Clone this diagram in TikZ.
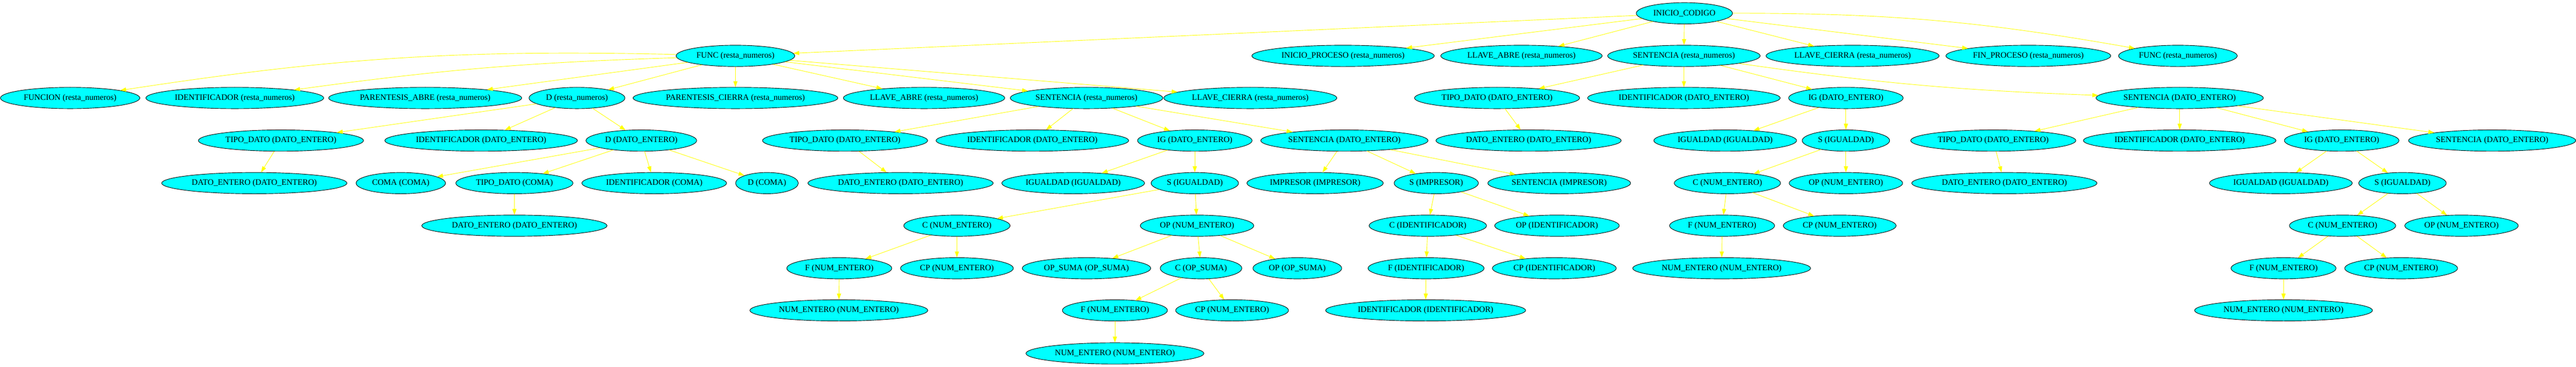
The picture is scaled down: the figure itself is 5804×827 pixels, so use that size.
\documentclass[tikz,border=0pt]{standalone}
\usepackage{fontspec}
\setmainfont{Liberation Serif}
\usetikzlibrary{arrows.meta,shapes.geometric}
\definecolor{tokcyan}{RGB}{0,255,255}
\definecolor{relyellow}{RGB}{255,255,0}

\begin{document}
\begin{tikzpicture}[x=0.75pt,y=-0.75pt,
    tok/.style={ellipse, draw=black, fill=tokcyan, line width=0.8pt, minimum height=36pt,
                inner xsep=5pt, inner ysep=2pt, font=\fontsize{14}{16}\selectfont},
    rel/.style={draw=relyellow, line width=0.8pt, -{Triangle[length=10pt,width=7pt,fill=relyellow]}}]
\useasboundingbox (0,0) rectangle (5804,827);
% Nodes
\node[tok] (ini) at (3795,30) {INICIO\_CODIGO};
\foreach \n/\x/\t in {fa/1657/FUNC (resta\_numeros), ipr/3026/INICIO\_PROCESO (resta\_numeros),
    lla/3428/LLAVE\_ABRE (resta\_numeros), sen/3794/SENTENCIA (resta\_numeros),
    llc/4174/LLAVE\_CIERRA (resta\_numeros), fpr/4570/FIN\_PROCESO (resta\_numeros),
    fb/4907/FUNC (resta\_numeros)} {
  \node[tok] (\n) at (\x,126) {\t};
}
\foreach \n/\x/\t in {fun/158/FUNCION (resta\_numeros), idr/529/IDENTIFICADOR (resta\_numeros),
    pab/958/PARENTESIS\_ABRE (resta\_numeros), dr/1300/D (resta\_numeros),
    pci/1657/PARENTESIS\_CIERRA (resta\_numeros), lab/2082/LLAVE\_ABRE (resta\_numeros),
    sr/2448/SENTENCIA (resta\_numeros), lcr/2817/LLAVE\_CIERRA (resta\_numeros),
    tda/3373/TIPO\_DATO (DATO\_ENTERO), ida/3794/IDENTIFICADOR (DATO\_ENTERO),
    iga/4159/IG (DATO\_ENTERO), sda/4911/SENTENCIA (DATO\_ENTERO)} {
  \node[tok] (\n) at (\x,221) {\t};
}
\foreach \n/\x/\t in {tdb/633/TIPO\_DATO (DATO\_ENTERO), idb/1084/IDENTIFICADOR (DATO\_ENTERO),
    ddb/1445/D (DATO\_ENTERO), tdc/1904/TIPO\_DATO (DATO\_ENTERO),
    idc/2326/IDENTIFICADOR (DATO\_ENTERO), igc/2692/IG (DATO\_ENTERO),
    sdc/3029/SENTENCIA (DATO\_ENTERO), dea/3444/DATO\_ENTERO (DATO\_ENTERO),
    iqa/3887/IGUALDAD (IGUALDAD), sqa/4159/S (IGUALDAD),
    tdd/4491/TIPO\_DATO (DATO\_ENTERO), idd/4911/IDENTIFICADOR (DATO\_ENTERO),
    igd/5276/IG (DATO\_ENTERO), sdd/5615/SENTENCIA (DATO\_ENTERO)} {
  \node[tok] (\n) at (\x,317) {\t};
}
\foreach \n/\x/\t in {deb/573/DATO\_ENTERO (DATO\_ENTERO), coma/903/COMA (COMA),
    tco/1159/TIPO\_DATO (COMA), ico/1474/IDENTIFICADOR (COMA), dco/1728/D (COMA),
    dec/2029/DATO\_ENTERO (DATO\_ENTERO), iqc/2418/IGUALDAD (IGUALDAD),
    sqc/2692/S (IGUALDAD), imp/2963/IMPRESOR (IMPRESOR), sim/3236/S (IMPRESOR),
    sei/3513/SENTENCIA (IMPRESOR), cna/3892/C (NUM\_ENTERO), opa/4159/OP (NUM\_ENTERO),
    ded/4516/DATO\_ENTERO (DATO\_ENTERO), iqd/5139/IGUALDAD (IGUALDAD),
    sqd/5413/S (IGUALDAD)} {
  \node[tok] (\n) at (\x,413) {\t};
}
\foreach \n/\x/\t in {dee/1159/DATO\_ENTERO (DATO\_ENTERO), cnc/2156/C (NUM\_ENTERO),
    opc/2697/OP (NUM\_ENTERO), cid/3217/C (IDENTIFICADOR), oid/3508/OP (IDENTIFICADOR),
    fna/3880/F (NUM\_ENTERO), cpa/4145/CP (NUM\_ENTERO), cnd/5278/C (NUM\_ENTERO),
    opd/5546/OP (NUM\_ENTERO)} {
  \node[tok] (\n) at (\x,509) {\t};
}
\foreach \n/\x/\t in {fnc/1891/F (NUM\_ENTERO), cpc/2156/CP (NUM\_ENTERO),
    osu/2448/OP\_SUMA (OP\_SUMA), cos/2706/C (OP\_SUMA), oos/2923/OP (OP\_SUMA),
    fid/3213/F (IDENTIFICADOR), cpi/3502/CP (IDENTIFICADOR),
    nea/3879/NUM\_ENTERO (NUM\_ENTERO), fnd/5145/F (NUM\_ENTERO), cpd/5410/CP (NUM\_ENTERO)} {
  \node[tok] (\n) at (\x,605) {\t};
}
\foreach \n/\x/\t in {nec/1890/NUM\_ENTERO (NUM\_ENTERO), fns/2512/F (NUM\_ENTERO),
    cps/2776/CP (NUM\_ENTERO), iid/3212/IDENTIFICADOR (IDENTIFICADOR),
    ned/5145/NUM\_ENTERO (NUM\_ENTERO)} {
  \node[tok] (\n) at (\x,700) {\t};
}
\node[tok] (nes) at (2512,797) {NUM\_ENTERO (NUM\_ENTERO)};
% Edges
\foreach \a/\b in {ini/fa, ini/ipr, ini/lla, ini/sen, ini/llc, ini/fpr,
    fa/pab, fa/dr, fa/pci, fa/lab, fa/sr, fa/lcr,
    sen/tda, sen/ida, sen/iga, dr/tdb, dr/idb, dr/ddb,
    sr/tdc, sr/idc, sr/igc, sr/sdc, tda/dea, iga/iqa, iga/sqa,
    sda/tdd, sda/idd, sda/igd, sda/sdd, tdb/deb,
    ddb/coma, ddb/tco, ddb/ico, ddb/dco, tdc/dec, igc/iqc, igc/sqc,
    sdc/imp, sdc/sim, sdc/sei, sqa/cna, sqa/opa, tdd/ded, igd/iqd, igd/sqd,
    tco/dee, sqc/cnc, sqc/opc, sim/cid, sim/oid, cna/fna, cna/cpa, sqd/cnd, sqd/opd,
    cnc/fnc, cnc/cpc, opc/osu, opc/cos, opc/oos, cid/fid, cid/cpi, fna/nea,
    cnd/fnd, cnd/cpd, fnc/nec, cos/fns, cos/cps, fid/iid, fnd/ned, fns/nes} {
  \draw[rel] (\a) -- (\b);
}
\foreach \a/\b/\k in {fa/fun/5, fa/idr/3, sen/sda/3, ini/fb/-5} {
  \draw[rel] (\a) to[bend right=\k] (\b);
}
\end{tikzpicture}
\end{document}
